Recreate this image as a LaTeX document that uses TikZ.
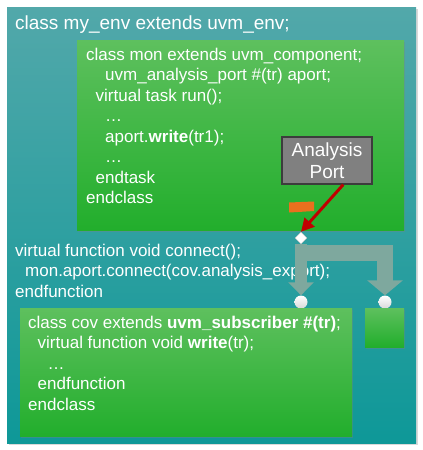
\documentclass[tikz,border=0pt]{standalone}
\usepackage{fontspec}
\setmainfont{Liberation Sans}
\usetikzlibrary{arrows.meta,shapes.geometric,shadows}
\definecolor{envTop}{RGB}{82,168,170}
\definecolor{envBot}{RGB}{14,152,152}
\definecolor{blockTop}{RGB}{94,192,94}
\definecolor{blockBot}{RGB}{34,174,44}
\definecolor{portGray}{RGB}{128,128,128}
\definecolor{portEdge}{RGB}{60,60,60}
\definecolor{flowGray}{RGB}{126,168,158}
\definecolor{hintRed}{RGB}{192,0,0}
\definecolor{apOrange}{RGB}{234,112,30}
\newcommand{\CodeSize}{\fontsize{17}{20.5}\selectfont}
\newcommand{\TitleSize}{\fontsize{19}{22.5}\selectfont}

\begin{document}
\begin{tikzpicture}[x=1pt,y=-1pt,
  panel/.style={top color=envTop,bottom color=envBot,drop shadow={shadow xshift=1.5pt,shadow yshift=-2pt,opacity=0.3}},
  block/.style={top color=blockTop,bottom color=blockBot,drop shadow={shadow xshift=1pt,shadow yshift=-1.5pt,opacity=0.35}},
  codeline/.style={anchor=base west,inner sep=0pt,text=white,font=\CodeSize},
  sink/.style={circle,top color=white,bottom color=gray!30,inner sep=0pt,minimum size=13pt},
  fork/.style={draw=flowGray,line width=#1}]
\useasboundingbox (0,0) rectangle (423,450);
% environment
\path[panel] (7,7) rectangle (416,443);
\node[codeline,font=\TitleSize] (envTitle) at (15,29) {class my\_env extends uvm\_env;};

% monitor
\path[block] (77,40) rectangle (404,230);
\foreach \dx/\txt [count=\i] in {0/{class mon extends uvm\_component;},
  19/{uvm\_analysis\_port \#(tr) aport;},
  9.5/{virtual task run();},
  19/{…},
  19/{aport.\textbf{write}(tr1);},
  19/{…},
  9.5/{endtask},
  0/{endclass}}
  \node[codeline] (mon-\i) at (86+\dx,39.5+20.5*\i) {\txt};
\node[fill=portGray,draw=portEdge,line width=1.2pt,text=white,font=\TitleSize,align=center,
  minimum width=90pt,minimum height=47pt,inner sep=0pt] (aport) at (327,160.5) {Analysis\\Port};
\fill[apOrange] (289,202.5) -- (314,201.5) -- (314,211) -- (298,212) -- (289,212.5) -- cycle;

% connect
\foreach \dx/\txt [count=\i] in {0/{virtual function void connect();},
  10/{mon.aport.connect(cov.analysis\_export);},
  0/{endfunction}}
  \node[codeline] (conn-\i) at (15+\dx,235.5+20.5*\i) {\txt};

\node[diamond,fill=white,draw=gray!50,line width=0.4pt,inner sep=0pt,minimum size=12pt] (tap) at (301,238) {};
\node[sink] (sinkA) at (301,302) {};
\node[sink] (sinkB) at (385,302) {};
\draw[fork=12pt,-{Triangle[width=25pt,length=13pt]}] (tap.south) -- (sinkA.north);
\draw[fork=16pt,-{Triangle[width=35pt,length=15pt]}] (tap.south) ++(0,9) -| (sinkB.north);
\draw[hintRed,line width=3pt,-{Triangle[width=13pt,length=13pt]}] (aport.-56) -- (tap.north);

% coverage
\path[block] (20,308) rectangle (352,436);
\foreach \dx/\txt [count=\i] in {0/{class cov extends \textbf{uvm\_subscriber \#(tr)};},
  9.5/{virtual function void \textbf{write}(tr);},
  19.5/{…},
  9.5/{endfunction},
  0/{endclass}}
  \node[codeline] (cov-\i) at (28+\dx,307.5+20.5*\i) {\txt};
\path[block] (365,308) rectangle (404,347);
\end{tikzpicture}
\end{document}
